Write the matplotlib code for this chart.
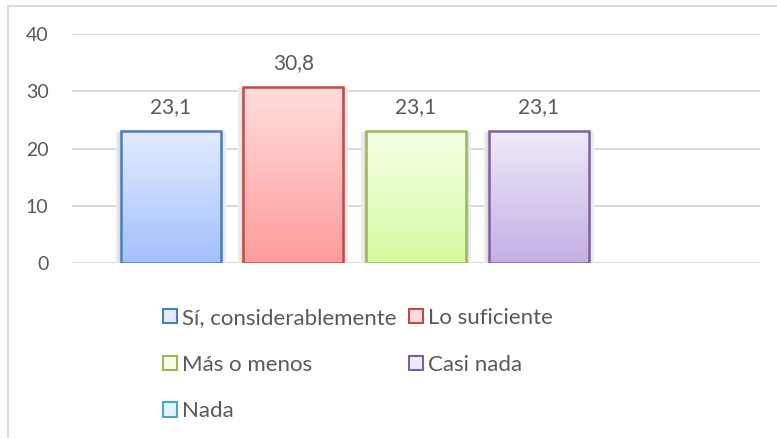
import numpy as np
import matplotlib
matplotlib.use('Agg')
import matplotlib.pyplot as plt
from matplotlib.patches import Rectangle, Patch
from matplotlib.colors import LinearSegmentedColormap

series = ['Sí, considerablemente', 'Lo suficiente', 'Más o menos', 'Casi nada', 'Nada']
values = [23.1, 30.8, 23.1, 23.1, 0.0]
labels = ['23,1', '30,8', '23,1', '23,1', '']
y_ticks = [0, 10, 20, 30, 40]

# (top, bottom, edge) for each series
tops = ['#e3ecff', '#ffdcdc', '#f5ffe8', '#efeaf8', '#e0f6fd']
bottoms = ['#a2c0fc', '#ff9c9c', '#d7fba0', '#c3b0e4', '#a8e0f5']
edges = ['#4a7ebb', '#be4b48', '#98b954', '#7d60a0', '#46aac5']

TEXT = '#595959'
GRID = '#d9d9d9'
plt.rcParams['font.family'] = ['Lato', 'DejaVu Sans']

W, H = 777, 438
fig = plt.figure(figsize=(W / 100, H / 100), dpi=100)
ax = fig.add_axes([72 / W, 1 - 263 / H, (760 - 72) / W, (263 - 34) / H])

# chart frame (cut at right and bottom like the original)
fig.patches.append(Rectangle((7.5 / W, -0.1), 1.2, 1 - 5.5 / H + 0.1,
                             transform=fig.transFigure, fill=False,
                             edgecolor=GRID, linewidth=1.3, zorder=0))

slot = 122.7 / 688
width = 100 / 688
px = 1 / 688
ax.set_xlim(-0.5, 0.5)
ax.set_ylim(0, 40)

grad = np.linspace(0, 1, 64).reshape(-1, 1)
for i, (v, lab) in enumerate(zip(values, labels)):
    x = (i - 2) * slot - width / 2
    if v <= 0:
        continue
    # soft shadow
    ax.add_patch(Rectangle((x - 5 * px, -0.15), width + 10 * px, v - 0.1,
                           facecolor='#ececec', edgecolor='none', zorder=2))
    ax.add_patch(Rectangle((x - 2.5 * px, -0.1), width + 5 * px, v - 0.05,
                           facecolor='#dedede', edgecolor='none', zorder=2))
    cmap = LinearSegmentedColormap.from_list('g%d' % i, [tops[i], bottoms[i]])
    im = ax.imshow(grad, cmap=cmap, aspect='auto', extent=(x, x + width, 0, v),
                   origin='upper', zorder=3, interpolation='bicubic')
    bar = Rectangle((x, 0), width, v, facecolor='none', edgecolor=edges[i],
                    linewidth=1.8, zorder=4)
    ax.add_patch(bar)
    im.set_clip_path(bar)
    ax.annotate(lab, (x + width / 2, v), xytext=(0, 10), textcoords='offset points',
                ha='center', va='bottom', fontsize=15, color=TEXT)

ax.set_yticks(y_ticks)
ax.set_xticks([])
ax.yaxis.grid(True, color=GRID, linewidth=1.4)
ax.set_axisbelow(True)
for s in ax.spines.values():
    s.set_visible(False)
ax.tick_params(axis='y', length=0, pad=17, labelsize=14, labelcolor=TEXT)

handles = [Patch(facecolor=tops[i], edgecolor=edges[i], linewidth=1.5, label=series[i])
           for i in range(len(series))]
order = [0, 2, 4, 1, 3]
leg = fig.legend([handles[i] for i in order], [series[i] for i in order],
                 loc='upper left', bbox_to_anchor=(163 / W, 1 - 308 / H), ncol=2,
                 frameon=False, fontsize=16, handlelength=0.62, handleheight=0.62,
                 handletextpad=0.25, columnspacing=0.55, labelspacing=1.2,
                 borderpad=0, borderaxespad=0)
for t in leg.get_texts():
    t.set_color(TEXT)

fig.savefig('out.png', dpi=100)
